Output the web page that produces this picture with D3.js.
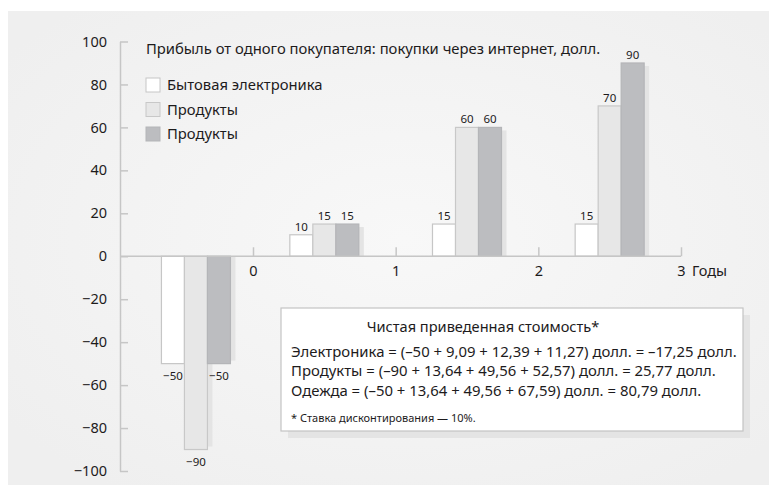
<!DOCTYPE html>
<html>
<head>
<meta charset="utf-8">
<script src="https://cdn.jsdelivr.net/npm/d3@7"></script>
<style>
  html, body { margin: 0; padding: 0; background: #ffffff; }
  svg { display: block; font-family: "Noto Sans", "Open Sans", sans-serif; }
</style>
</head>
<body>
<svg id="chart" width="769" height="487"></svg>
<script>
// Years on the horizontal axis
const years = [0, 1, 2, 3];
// Profit per customer, dollars, by year
const electronics = [-50, 10, 15, 15];
const groceries   = [-90, 15, 60, 70];
const clothing    = [-50, 15, 60, 90];
// Legend entries (as printed)
const legendLabels = ["Бытовая электроника", "Продукты", "Продукты"];
// Axis ticks
const yTicks = [100, 80, 60, 40, 20, 0, -20, -40, -60, -80, -100];
const xTickLabels = ["0", "1", "2", "3"];
// Texts
const titleText = "Прибыль от одного покупателя: покупки через интернет, долл.";
const xAxisTitle = "Годы";
const npvTitle = "Чистая приведенная стоимость*";
const npvLines = [
  "Электроника = (–50 + 9,09 + 12,39 + 11,27) долл. = –17,25 долл.",
  "Продукты = (–90 + 13,64 + 49,56 + 52,57) долл. = 25,77 долл.",
  "Одежда = (–50 + 13,64 + 49,56 + 67,59) долл. = 80,79 долл."
];
const npvNote = "* Ставка дисконтирования — 10%.";

const series = [
  { key: "e", values: electronics, fill: "#ffffff", stroke: "#c6c6c6" },
  { key: "g", values: groceries,   fill: "#e7e7e7", stroke: "#c8c8c8" },
  { key: "c", values: clothing,    fill: "#bcbdc0", stroke: "#b4b5b8" }
];

const svg = d3.select("#chart");
const W = 769, H = 487;
const ink = "#1d1b1c";

// background panel with a soft radial highlight
const defs = svg.append("defs");
const rg = defs.append("radialGradient").attr("id", "bg")
  .attr("cx", "0.52").attr("cy", "0.48").attr("r", "0.65");
rg.append("stop").attr("offset", "0").attr("stop-color", "#f8f8f8");
rg.append("stop").attr("offset", "1").attr("stop-color", "#efefef");
svg.append("rect").attr("x", 8).attr("y", 11).attr("width", W - 8).attr("height", H - 13)
  .attr("fill", "url(#bg)");

const axisLeftX = 120;
const x = d3.scaleLinear().domain([0, 3]).range([253, 681]);
const y = d3.scaleLinear().domain([-100, 100]).range([471, 41.5]);
const inner = d3.scaleBand().domain(series.map(s => s.key)).range([-34.5, 34.5]);

// the initial outlay sits just left of year 0; later cash flows sit within the preceding year
const groupCenter = yr => yr === 0 ? x(-0.4) : x(yr - 0.5);

const axisColor = "#c6c6c6";

// y axis
const yAxis = svg.append("g").attr("transform", `translate(${axisLeftX},0)`)
  .call(d3.axisLeft(y).tickValues(yTicks).tickSize(-8).tickSizeOuter(0).tickPadding(13)
    .tickFormat(d => d < 0 ? "−" + Math.abs(d) : d));
yAxis.selectAll("path, line").attr("stroke", axisColor).attr("stroke-width", 1.5);
yAxis.selectAll("text").attr("font-size", 14.5).attr("fill", ink)
  .attr("font-family", "Noto Sans");

// bar shadows, then bars
const barW = inner.bandwidth();
series.forEach(s => {
  svg.append("g").selectAll("rect").data(years).join("rect")
    .attr("x", (d, i) => groupCenter(d) + inner(s.key) + 5)
    .attr("width", barW)
    .attr("y", (d, i) => s.values[i] >= 0 ? y(s.values[i]) + 3 : y(0))
    .attr("height", (d, i) => Math.max(0, Math.abs(y(s.values[i]) - y(0)) - 3))
    .attr("fill", "#e4e4e4");
});
series.forEach(s => {
  svg.append("g").selectAll("rect").data(years).join("rect")
    .attr("x", d => groupCenter(d) + inner(s.key))
    .attr("width", barW)
    .attr("y", (d, i) => Math.min(y(s.values[i]), y(0)))
    .attr("height", (d, i) => Math.abs(y(s.values[i]) - y(0)))
    .attr("fill", s.fill).attr("stroke", s.stroke).attr("stroke-width", 1.2);
});
// value labels
series.forEach(s => {
  svg.append("g").selectAll("text").data(years).join("text")
    .attr("x", d => groupCenter(d) + inner(s.key) + barW / 2)
    .attr("y", (d, i) => s.values[i] >= 0 ? y(s.values[i]) - 4 : y(s.values[i]) + 16)
    .attr("text-anchor", "middle").attr("font-size", 11.5).attr("fill", ink)
    .text((d, i) => s.values[i] < 0 ? "−" + Math.abs(s.values[i]) : s.values[i]);
});

// x axis
svg.append("line").attr("x1", axisLeftX).attr("x2", x(3)).attr("y1", y(0)).attr("y2", y(0))
  .attr("stroke", axisColor).attr("stroke-width", 1.5);
const xAxis = svg.append("g").attr("transform", `translate(0,${y(0)})`)
  .call(d3.axisBottom(x).tickValues(years).tickSize(-9).tickSizeOuter(0).tickPadding(9)
    .tickFormat((d, i) => xTickLabels[i]));
xAxis.select(".domain").remove();
xAxis.selectAll("line").attr("stroke", axisColor).attr("stroke-width", 1.5);
xAxis.selectAll("text").attr("font-size", 14.5).attr("fill", ink).attr("font-family", "Noto Sans");
svg.append("text").attr("x", x(3) + 11).attr("y", y(0) + 20).attr("font-size", 14.5)
  .attr("fill", ink).text(xAxisTitle);

// title
svg.append("text").attr("x", 146).attr("y", 54).attr("font-size", 14.8).attr("fill", ink)
  .text(titleText);

// legend
const lg = svg.append("g");
legendLabels.forEach((lab, i) => {
  const cy = 85 + i * 24.5;
  lg.append("rect").attr("x", 146).attr("y", cy - 7).attr("width", 14).attr("height", 14)
    .attr("fill", series[i].fill).attr("stroke", series[i].stroke).attr("stroke-width", 1);
  lg.append("text").attr("x", 167).attr("y", cy + 5).attr("font-size", 14.8).attr("fill", ink)
    .text(lab);
});

// NPV box
const bx = 281, by = 308, bw = 462, bh = 123;
svg.append("rect").attr("x", bx + 7).attr("y", by + 7).attr("width", bw).attr("height", bh)
  .attr("fill", "#e4e4e4");
svg.append("rect").attr("x", bx).attr("y", by).attr("width", bw).attr("height", bh)
  .attr("fill", "#ffffff").attr("stroke", "#c4c4c4").attr("stroke-width", 1.2);
svg.append("text").attr("x", 483).attr("y", 332).attr("text-anchor", "middle")
  .attr("font-size", 14.6).attr("fill", ink).text(npvTitle);
npvLines.forEach((t, i) => {
  svg.append("text").attr("x", 291).attr("y", 357 + i * 19.3).attr("font-size", 14.9)
    .attr("fill", ink).text(t);
});
svg.append("text").attr("x", 291).attr("y", 422).attr("font-size", 11)
  .attr("fill", ink).text(npvNote);
</script>
</body>
</html>
